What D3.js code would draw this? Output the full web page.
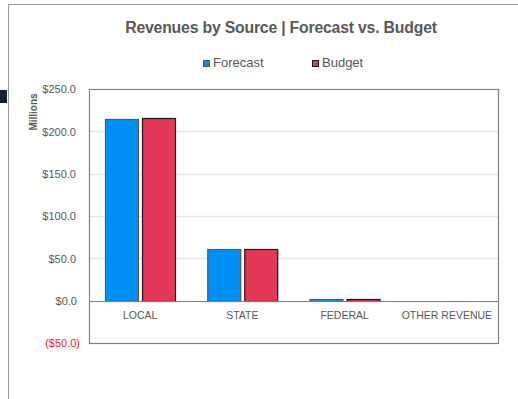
<!DOCTYPE html>
<html>
<head>
<meta charset="utf-8">
<script src="https://cdn.jsdelivr.net/npm/d3@7"></script>
<style>
  html, body { margin: 0; padding: 0; background: #fff; }
  svg { display: block; font-family: "Liberation Sans", Arial, sans-serif; }
</style>
</head>
<body>
<div id="chart"></div>
<script>
const categories = ["LOCAL", "STATE", "FEDERAL", "OTHER REVENUE"];
const seriesNames = ["Forecast", "Budget"];
const forecast = [214.5, 61.3, 2.3, 0];
const budget = [215.3, 61.2, 2.3, 0];
const tickValues = [-50, 0, 50, 100, 150, 200, 250];

const width = 518, height = 399;
const fills = ["#0090F5", "#E33757"];
const strokes = ["#595959", "#1a1a1a"];

const svg = d3.select("#chart").append("svg")
  .attr("width", width)
  .attr("height", height);

// outer chart frame (runs off the page on right/bottom)
svg.append("rect")
  .attr("x", 8.5).attr("y", 4.5)
  .attr("width", 600).attr("height", 600)
  .attr("fill", "none")
  .attr("stroke", "#9a9a9a");

// small dark marker on the left edge
svg.append("rect")
  .attr("x", 0).attr("y", 90)
  .attr("width", 7).attr("height", 13)
  .attr("fill", "#15222d");

svg.append("text")
  .attr("x", 281).attr("y", 33)
  .attr("text-anchor", "middle")
  .attr("font-size", 15.8)
  .attr("font-weight", "bold")
  .attr("letter-spacing", -0.2)
  .attr("fill", "#595959")
  .text("Revenues by Source | Forecast vs. Budget");

// legend
const legendX = [203, 312];
seriesNames.forEach((name, i) => {
  svg.append("rect")
    .attr("x", legendX[i] + 0.5).attr("y", 60.5)
    .attr("width", 6).attr("height", 6)
    .attr("fill", fills[i])
    .attr("stroke", strokes[i]);
  svg.append("text")
    .attr("x", legendX[i] + 10).attr("y", 67)
    .attr("font-size", 13)
    .attr("fill", "#595959")
    .text(name);
});

const plot = { left: 89, right: 498, top: 89, bottom: 343 };

const y = d3.scaleLinear()
  .domain([-50, 250])
  .range([plot.bottom, plot.top]);

const x0 = d3.scaleBand()
  .domain(categories)
  .range([plot.left, plot.right])
  .paddingInner(0)
  .paddingOuter(0);

const x1 = d3.scaleBand()
  .domain(seriesNames)
  .range([0, x0.bandwidth()])
  .paddingInner(0.108)
  .paddingOuter(0.436);

// gridlines
svg.append("g")
  .selectAll("line")
  .data(tickValues.filter(v => v > 0 && v < 250))
  .join("line")
  .attr("x1", plot.left).attr("x2", plot.right)
  .attr("y1", d => Math.round(y(d)) + 0.5)
  .attr("y2", d => Math.round(y(d)) + 0.5)
  .attr("stroke", "#e6e6e6")
  .attr("stroke-width", 1.5);

// y axis labels
const fmt = v => v < 0 ? "($" + Math.abs(v).toFixed(1) + ")" : "$" + v.toFixed(1);
const yAxis = d3.axisLeft(y).tickValues(tickValues).tickSize(0).tickPadding(0).tickFormat(fmt);
const yg = svg.append("g")
  .attr("transform", "translate(76,0)")
  .call(yAxis);
yg.select(".domain").remove();
yg.selectAll("text")
  .attr("font-family", "Liberation Sans, Arial, sans-serif")
  .attr("font-size", 11)
  .attr("fill", d => d < 0 ? "#FF2020" : "#595959")
  .attr("dx", d => d < 0 ? 4 : (d === 0 ? 1 : 0))
  .attr("dy", "0.35em");

svg.append("text")
  .attr("transform", "translate(37,112) rotate(-90)")
  .attr("text-anchor", "middle")
  .attr("font-size", 10)
  .attr("font-weight", "bold")
  .attr("fill", "#595959")
  .text("Millions");

// bars
const rows = categories.map((c, i) => ({ cat: c, vals: [forecast[i], budget[i]] }));
const groups = svg.append("g")
  .selectAll("g")
  .data(rows)
  .join("g")
  .attr("transform", d => `translate(${x0(d.cat)},0)`);

groups.selectAll("rect")
  .data(d => d.vals.map((v, i) => ({ v, i })).filter(e => e.v > 0))
  .join("rect")
  .attr("x", e => Math.round(x1(seriesNames[e.i])) + 0.5)
  .attr("y", e => Math.round(y(e.v)) + 0.5)
  .attr("width", Math.round(x1.bandwidth()))
  .attr("height", e => Math.max(0, Math.round(y(0)) - Math.round(y(e.v))))
  .attr("fill", e => fills[e.i])
  .attr("stroke", e => strokes[e.i])
  .attr("stroke-width", 1.2);

// zero line
svg.append("line")
  .attr("x1", plot.left).attr("x2", plot.right)
  .attr("y1", Math.round(y(0)) + 0.5).attr("y2", Math.round(y(0)) + 0.5)
  .attr("stroke", "#7f7f7f")
  .attr("stroke-width", 1.2);

// category labels
const xAxis = d3.axisBottom(x0).tickSize(0).tickPadding(0);
const xg = svg.append("g")
  .attr("transform", `translate(0,${y(0) + 18})`)
  .call(xAxis);
xg.select(".domain").remove();
xg.selectAll("text")
  .attr("font-family", "Liberation Sans, Arial, sans-serif")
  .attr("font-size", 10.5)
  .attr("fill", "#595959")
  .attr("dy", 0);

// plot area border
svg.append("rect")
  .attr("x", plot.left + 0.5).attr("y", plot.top + 0.5)
  .attr("width", plot.right - plot.left).attr("height", plot.bottom - plot.top)
  .attr("fill", "none")
  .attr("stroke", "#808080")
  .attr("stroke-width", 1.2);
</script>
</body>
</html>
